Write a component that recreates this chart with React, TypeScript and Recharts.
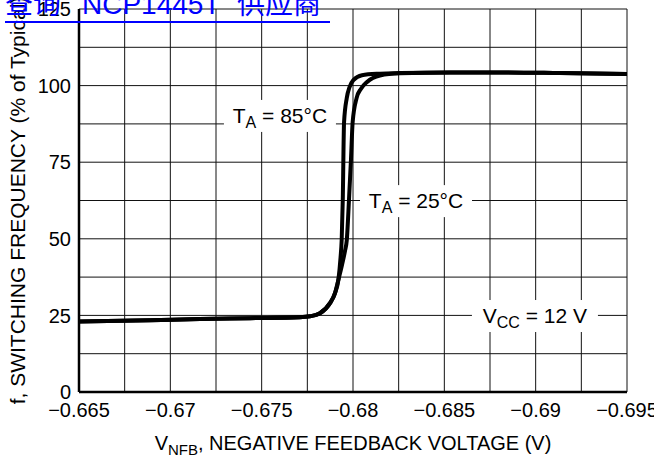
import React from 'react';
import { LineChart, Line, XAxis, YAxis, CartesianGrid, ReferenceDot } from 'recharts';

// axis ticks: every gridline is a tick, only every other one carries a label
const xTicks = [-0.665, -0.6675, -0.67, -0.6725, -0.675, -0.6775, -0.68, -0.6825, -0.685, -0.6875, -0.69, -0.6925, -0.695];
const xTickLabels = ['−0.665', '', '−0.67', '', '−0.675', '', '−0.68', '', '−0.685', '', '−0.69', '', '−0.695'];
const yTicks = [0, 12.5, 25, 37.5, 50, 62.5, 75, 87.5, 100, 112.5, 125];
const yTickLabels = ['0', '', '25', '', '50', '', '75', '', '100', '', '125'];

// TA = 85°C curve
const volts85 = [
  -0.665, -0.66889, -0.67162, -0.67436, -0.6771, -0.67765, -0.67819, -0.67874, -0.67901, -0.6792,
  -0.67932, -0.67938, -0.67944, -0.67951, -0.67966, -0.67981, -0.68002, -0.68049, -0.68148, -0.68257,
  -0.68531, -0.68805, -0.69133, -0.695,
];
const freq85 = [
  23.0, 23.4, 23.8, 24.1, 24.4, 24.7, 25.7, 29.0, 32.2, 36.6,
  44, 49.6, 62.7, 88, 96, 99.5, 101.8, 103.4, 103.9, 104.1,
  104.3, 104.3, 104.1, 103.8,
];

// TA = 25°C curve
const volts25 = [
  -0.665, -0.66889, -0.67162, -0.67436, -0.6771, -0.67765, -0.67819, -0.67874, -0.67901, -0.6792,
  -0.6794, -0.67956, -0.67966, -0.67978, -0.67989, -0.67998, -0.6802, -0.68044, -0.68077, -0.68148,
  -0.68257, -0.68531, -0.68805, -0.69133, -0.695,
];
const freq25 = [
  23.0, 23.4, 23.8, 24.1, 24.4, 24.7, 25.7, 29.0, 32.2, 36.6,
  41.5, 46, 49.6, 62.7, 76, 88, 96, 99, 101.2, 103.3,
  104.0, 104.3, 104.3, 104.1, 103.8,
];

const data85 = volts85.map((v, i) => ({ v, f: freq85[i] }));
const data25 = volts25.map((v, i) => ({ v, f: freq25[i] }));

const FONT = '"Liberation Sans", Arial, Helvetica, sans-serif';

const xLabel = (val: number) => {
  const i = xTicks.findIndex((t) => Math.abs(t - val) < 1e-7);
  return i >= 0 ? xTickLabels[i] : '';
};
const yLabel = (val: number) => {
  const i = yTicks.findIndex((t) => Math.abs(t - val) < 1e-7);
  return i >= 0 ? yTickLabels[i] : '';
};

const XTitle = (props: any) => {
  const vb = props.viewBox || {};
  return (
    <text x={vb.x + vb.width / 2} y={vb.y + 58} textAnchor="middle" fontFamily={FONT} fontSize={20} fill="#000">
      V<tspan fontSize={15} dy={5}>NFB</tspan>
      <tspan dy={-5}>, NEGATIVE FEEDBACK VOLTAGE (V)</tspan>
    </text>
  );
};

const YTitle = (props: any) => {
  const vb = props.viewBox || {};
  const x = vb.x + 6;
  const y = vb.y + vb.height / 2;
  return (
    <text x={x} y={y} transform={`rotate(-90, ${x}, ${y})`} textAnchor="middle" fontFamily={FONT} fontSize={21} fill="#000">
      f, SWITCHING FREQUENCY (% of Typical)
    </text>
  );
};

// boxed annotation centered on a data point
const boxed = (main: string, sub: string, rest: string, w: number) => (p: any) => (
  <g>
    <rect x={p.cx - w / 2} y={p.cy - 16} width={w} height={32} fill="#fff" />
    <text x={p.cx} y={p.cy + 7} textAnchor="middle" fontFamily={FONT} fontSize={21} fill="#000">
      {main}
      <tspan fontSize={16} dy={5}>{sub}</tspan>
      <tspan dy={-5}>{rest}</tspan>
    </text>
  </g>
);

export default function App() {
  return (
    <div style={{ position: 'absolute', left: 0, top: 0, width: 654, height: 466, background: '#fff' }}>
      <LineChart width={654} height={466} margin={{ top: 9, right: 27, bottom: 0, left: 19 }}>
        <CartesianGrid stroke="#111" strokeWidth={1} />
        <XAxis
          type="number"
          dataKey="v"
          domain={[-0.695, -0.665]}
          reversed
          ticks={xTicks}
          interval={0}
          allowDataOverflow
          tickFormatter={xLabel}
          tickLine={false}
          tickMargin={5}
          height={74}
          axisLine={{ stroke: '#000', strokeWidth: 2.5 }}
          tick={{ fill: '#000', fontSize: 20, fontFamily: FONT }}
          label={<XTitle />}
        />
        <YAxis
          type="number"
          dataKey="f"
          domain={[0, 125]}
          ticks={yTicks}
          interval={0}
          allowDataOverflow
          tickFormatter={yLabel}
          tickLine={false}
          width={60}
          axisLine={{ stroke: '#000', strokeWidth: 2.5 }}
          tick={{ fill: '#000', fontSize: 20, fontFamily: FONT }}
          label={<YTitle />}
        />
        <Line data={data85} dataKey="f" type="monotone" stroke="#000" strokeWidth={4} dot={false} isAnimationActive={false} />
        <Line data={data25} dataKey="f" type="monotone" stroke="#000" strokeWidth={4} dot={false} isAnimationActive={false} />
        <ReferenceDot x={-0.676} y={90.1} r={0} ifOverflow="visible" shape={boxed('T', 'A', ' = 85°C', 112)} />
        <ReferenceDot x={-0.68345} y={62.3} r={0} ifOverflow="visible" shape={boxed('T', 'A', ' = 25°C', 112)} />
        <ReferenceDot x={-0.68996} y={24.8} r={0} ifOverflow="visible" shape={boxed('V', 'CC', ' = 12 V', 126)} />
      </LineChart>
      <svg width={654} height={466} style={{ position: 'absolute', left: 0, top: 0, pointerEvents: 'none' }}>
        <text y={14} fontFamily={'"Liberation Sans", "Noto Sans CJK SC", sans-serif'} fontSize={28} fill="#0000ff">
          <tspan x={5}>查询</tspan>
          <tspan x={82}>NCP1445T</tspan>
          <tspan x={237}>供应商</tspan>
        </text>
        <rect x={5} y={21} width={325} height={2} fill="#0000ff" />
      </svg>
    </div>
  );
}
